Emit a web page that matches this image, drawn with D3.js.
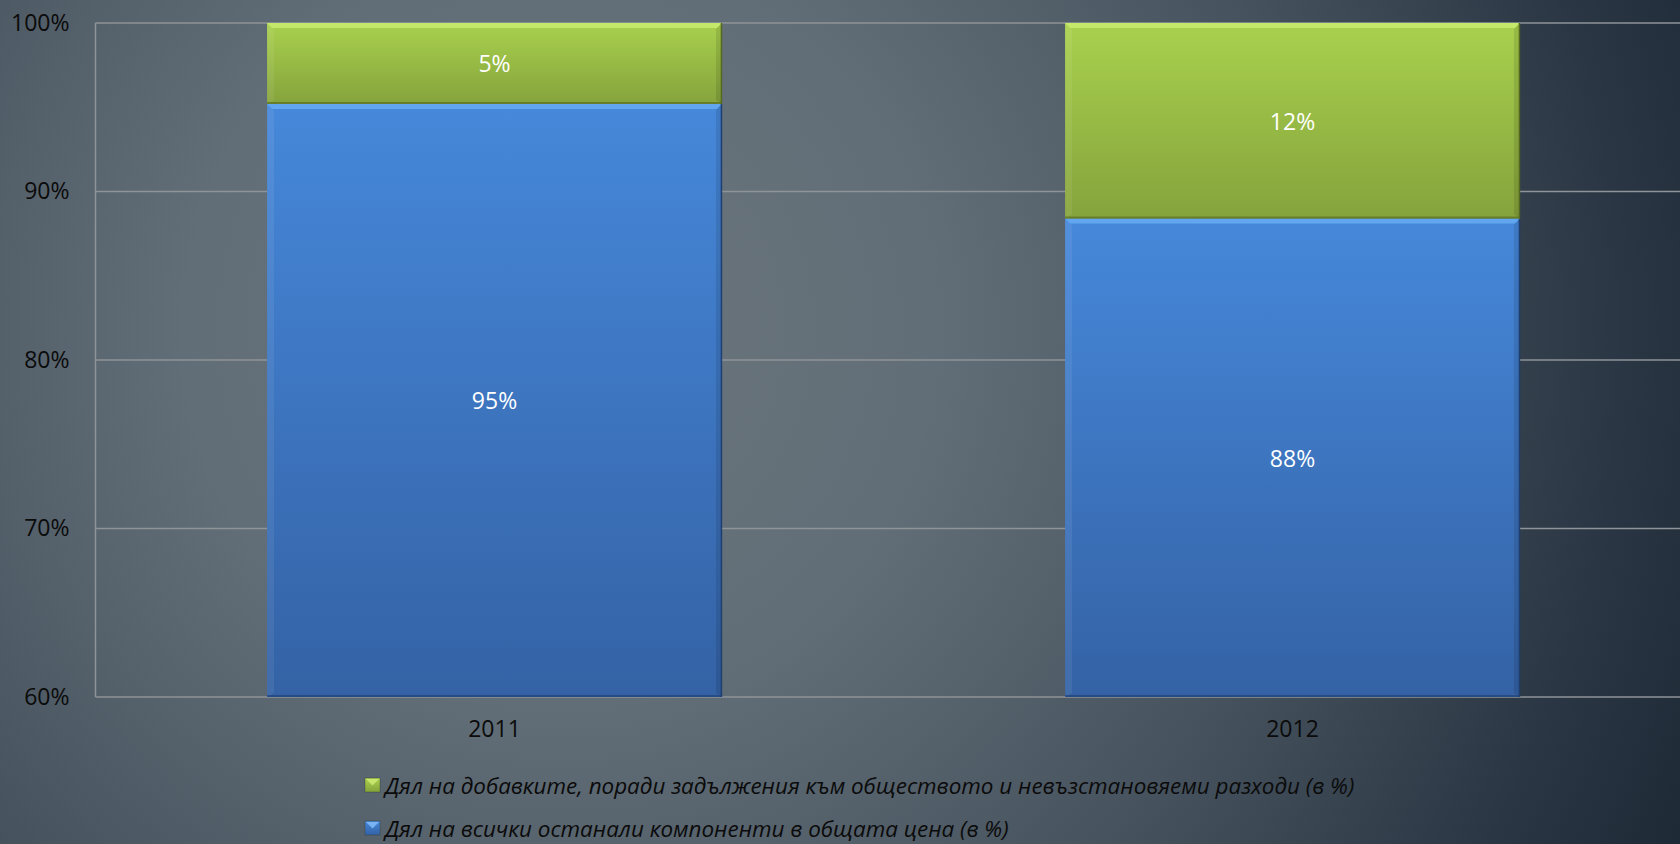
<!DOCTYPE html>
<html>
<head>
<meta charset="utf-8">
<script src="https://cdn.jsdelivr.net/npm/d3@7"></script>
<style>
  html, body { margin: 0; padding: 0; overflow: hidden; background: #2c3742; }
  svg { display: block; font-family: "Open Sans", sans-serif; }
</style>
</head>
<body>
<svg width="1680" height="844"></svg>
<script>
// data (shares, 0..1)
var years = ["2011", "2012"];
var otherShare = [0.952, 0.884];   // Дял на всички останали компоненти
var levyShare = [0.048, 0.116];    // Дял на добавките
var yTicks = [0.6, 0.7, 0.8, 0.9, 1.0];
var seriesNames = [
    "Дял на добавките, поради задължения към обществото и невъзстановяеми разходи (в %)",
    "Дял на всички останали компоненти в общата цена (в %)"
];

var svg = d3.select("svg"),
    width = 1680,
    height = 844,
    margin = {top: 23, left: 95.5, bottom: 697, right: 1691.5};

var defs = svg.append("defs");

// background: soft radial grey-blue fading to dark navy
var bg = defs.append("radialGradient")
    .attr("id", "bg")
    .attr("gradientUnits", "userSpaceOnUse")
    .attr("cx", 560).attr("cy", 330).attr("r", 1250)
    .attr("fx", 560).attr("fy", 330);
bg.append("stop").attr("offset", 0).attr("stop-color", "#6a757d");
bg.append("stop").attr("offset", 0.3).attr("stop-color", "#626e77");
bg.append("stop").attr("offset", 0.6).attr("stop-color", "#46525d");
bg.append("stop").attr("offset", 0.85).attr("stop-color", "#2a3643");
bg.append("stop").attr("offset", 1).attr("stop-color", "#1d2835");

svg.append("rect")
    .attr("width", width)
    .attr("height", height)
    .attr("fill", "url(#bg)");

function vgrad(id, c1, c2) {
    var g = defs.append("linearGradient")
        .attr("id", id)
        .attr("x1", 0).attr("y1", 0).attr("x2", 0).attr("y2", 1);
    g.append("stop").attr("offset", 0).attr("stop-color", c1);
    g.append("stop").attr("offset", 1).attr("stop-color", c2);
}
vgrad("gBlue", "#4688da", "#3462a5");
vgrad("gGreen", "#a9d14e", "#85a33c");

var colors = {other: "url(#gBlue)", levy: "url(#gGreen)"};
var hiColors = {other: "#6aaef5", levy: "#c9ee72"};
var edgeColors = {other: "#1f3f70", levy: "#55681f"};

var x = d3.scaleBand()
    .domain(years)
    .range([margin.left, margin.right])
    .paddingInner(0.43)
    .paddingOuter(0.215);

var y = d3.scaleLinear()
    .domain([0.6, 1.0])
    .range([margin.bottom, margin.top]);

var fmt = d3.format(".0%");

// gridlines + left axis line
svg.append("g")
    .attr("class", "grid")
    .selectAll("line")
    .data(yTicks)
    .enter()
    .append("line")
    .attr("x1", margin.left)
    .attr("x2", margin.right)
    .attr("y1", function(d) { return y(d); })
    .attr("y2", function(d) { return y(d); })
    .attr("stroke", "#8e9498")
    .attr("stroke-width", 1.5);
svg.append("line")
    .attr("x1", margin.left).attr("x2", margin.left)
    .attr("y1", y(1.0)).attr("y2", y(0.6))
    .attr("stroke", "#8e9498")
    .attr("stroke-width", 1.5);

// y tick labels
var yAxis = d3.axisLeft(y)
    .tickValues(yTicks)
    .tickFormat(fmt)
    .tickSize(0)
    .tickPadding(26);
var ya = svg.append("g")
    .attr("transform", "translate(" + margin.left + ",0)")
    .call(yAxis);
ya.select(".domain").remove();
ya.selectAll("text")
    .attr("fill", "#0b0b0b")
    .style("font-size", "23px")
    .style("font-family", "Open Sans");

// x tick labels
var xAxis = d3.axisBottom(x).tickSize(0).tickPadding(24);
var xa = svg.append("g")
    .attr("transform", "translate(0," + margin.bottom + ")")
    .call(xAxis);
xa.select(".domain").remove();
xa.selectAll("text")
    .attr("fill", "#0b0b0b")
    .style("font-size", "23px")
    .style("font-family", "Open Sans");

// stacked bars
var table = years.map(function(yr, i) {
    return {year: yr, other: otherShare[i], levy: levyShare[i]};
});
var stack = d3.stack().keys(["other", "levy"]);
var layers = stack(table);

var bars = svg.append("g").attr("class", "bars");
layers.forEach(function(layer) {
    var key = layer.key;
    var g = bars.append("g").attr("class", "series " + key);
    var seg = g.selectAll("g")
        .data(layer)
        .enter()
        .append("g");

    function y0(d) { return y(Math.max(d[0], 0.6)); }
    function y1(d) { return y(d[1]); }

    seg.append("rect")
        .attr("x", function(d) { return x(d.data.year); })
        .attr("y", y1)
        .attr("width", x.bandwidth())
        .attr("height", function(d) { return y0(d) - y1(d); })
        .attr("fill", colors[key]);
    // bevel: top highlight, left soft strip, right dark edge
    seg.append("path")
        .attr("d", function(d) {
            var xl = x(d.data.year), xr = xl + x.bandwidth(), t = y1(d), b = 5;
            return "M" + xl + "," + t + "L" + xr + "," + t + "L" + (xr - b) + "," + (t + b) +
                "L" + (xl + b) + "," + (t + b) + "Z";
        })
        .attr("fill", hiColors[key])
        .attr("opacity", 0.8);
    seg.append("path")
        .attr("d", function(d) {
            var xl = x(d.data.year), t = y1(d), bt = y0(d), b = 7;
            return "M" + xl + "," + t + "L" + (xl + b) + "," + (t + b) + "L" + (xl + b) + "," + (bt - 4) +
                "L" + xl + "," + bt + "Z";
        })
        .attr("fill", "#ffffff")
        .attr("opacity", 0.07);
    seg.append("path")
        .attr("d", function(d) {
            var xr = x(d.data.year) + x.bandwidth(), t = y1(d), bt = y0(d), b = 6;
            return "M" + xr + "," + t + "L" + (xr - b) + "," + (t + b) + "L" + (xr - b) + "," + (bt - 4) +
                "L" + xr + "," + bt + "Z";
        })
        .attr("fill", "#000000")
        .attr("opacity", 0.1);
    seg.append("line")
        .attr("x1", function(d) { return x(d.data.year); })
        .attr("x2", function(d) { return x(d.data.year) + x.bandwidth(); })
        .attr("y1", function(d) { return y0(d) - 1; })
        .attr("y2", function(d) { return y0(d) - 1; })
        .attr("stroke", edgeColors[key])
        .attr("stroke-width", 2)
        .attr("opacity", 0.6);
    seg.append("line")
        .attr("x1", function(d) { return x(d.data.year) + x.bandwidth() - 0.5; })
        .attr("x2", function(d) { return x(d.data.year) + x.bandwidth() - 0.5; })
        .attr("y1", y1)
        .attr("y2", y0)
        .attr("stroke", edgeColors[key])
        .attr("stroke-width", 1.5);

    seg.append("text")
        .attr("x", function(d) { return x(d.data.year) + x.bandwidth() / 2; })
        .attr("y", function(d) { return (y0(d) + y1(d)) / 2; })
        .attr("text-anchor", "middle")
        .attr("dominant-baseline", "central")
        .attr("fill", "#ffffff")
        .style("font-size", "23px")
        .text(function(d) { return fmt(d[1] - d[0]); });
});

// legend
var legend = svg.append("g").attr("class", "legend");
var legendData = [
    {name: seriesNames[0], fill: "url(#gGreen)", hi: "#d4f07a"},
    {name: seriesNames[1], fill: "url(#gBlue)", hi: "#8cc4ff"}
];
var rows = legend.selectAll("g")
    .data(legendData)
    .enter()
    .append("g")
    .attr("transform", function(d, i) { return "translate(365," + (785 + i * 43) + ")"; });
rows.append("rect")
    .attr("x", 0).attr("y", -7)
    .attr("width", 15).attr("height", 14)
    .attr("fill", function(d) { return d.fill; })
    .attr("stroke", "#2a3420")
    .attr("stroke-opacity", 0.4)
    .attr("stroke-width", 0.8);
rows.append("path")
    .attr("d", "M1,-6L14,-6L7.5,0.5Z")
    .attr("fill", function(d) { return d.hi; })
    .attr("opacity", 0.75);
var ltext = rows.append("text")
    .attr("x", 20)
    .attr("y", 0)
    .attr("dominant-baseline", "central")
    .attr("fill", "#0b0b0b")
    .style("font-style", "italic")
    .style("font-size", "22px")
    .text(function(d) { return d.name; });

// fit the first legend line to the width it has in the original (Calibri is narrower)
var w0 = ltext.nodes()[0].getComputedTextLength();
var fs = 22 * 970 / w0;
ltext.style("font-size", fs + "px");
</script>
</body>
</html>
